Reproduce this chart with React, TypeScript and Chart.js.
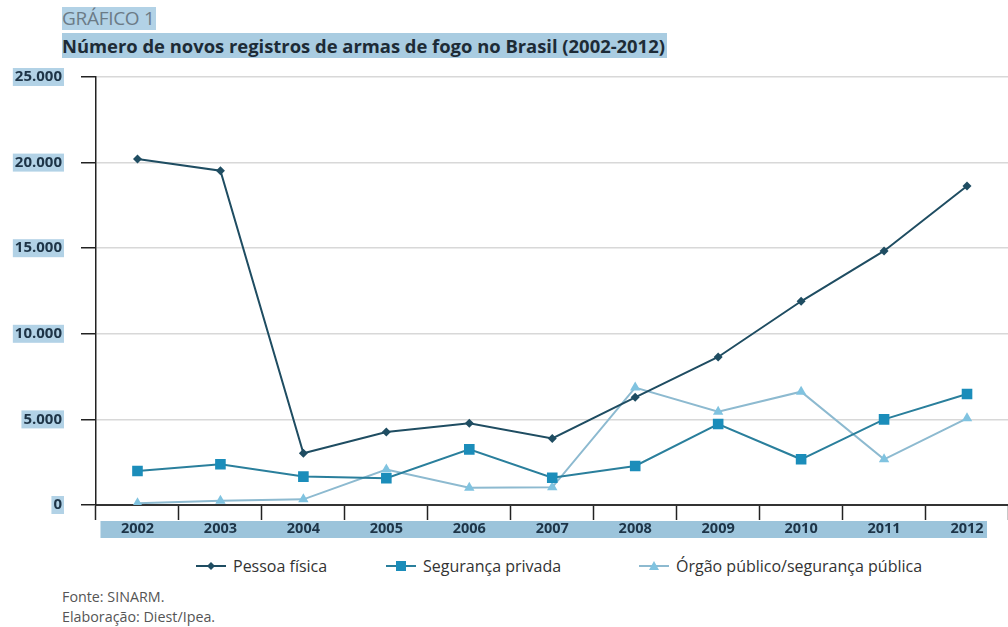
import React, { useEffect, useRef } from "react";
import { Chart, registerables } from "chart.js";

Chart.register(...registerables);

const years = ["2002", "2003", "2004", "2005", "2006", "2007", "2008", "2009", "2010", "2011", "2012"];
const pessoaFisica = [20210, 19530, 3020, 4260, 4770, 3890, 6290, 8645, 11900, 14840, 18630];
const segurancaPrivada = [1990, 2380, 1660, 1560, 3250, 1590, 2280, 4730, 2670, 5000, 6480];
const orgaoPublico = [100, 250, 330, 2070, 1010, 1030, 6860, 5450, 6620, 2670, 5060];
const seriesNames = ["Pessoa física", "Segurança privada", "Órgão público/segurança pública"];
const yMin = 0;
const yMax = 25000;
const yStep = 5000;

const C_PESSOA = "#1f4d62";
const C_SEG_LINE = "#2a7f9c";
const C_SEG_PT = "#1b8dba";
const C_ORG_LINE = "#8dbad0";
const C_ORG_PT = "#80c3e0";
const HL = "#b2d2e6";
const FONT = "'Open Sans', sans-serif";

const fmt = (v: number) => String(v).replace(/\B(?=(\d{3})+(?!\d))/g, ".");

const bandPlugin = {
  id: "xBand",
  beforeDraw(chart: any) {
    const xs = chart.scales.x;
    const ctx = chart.ctx;
    const l = xs.getPixelForValue(0) - 37;
    const r = xs.getPixelForValue(years.length - 1) + 20;
    ctx.save();
    ctx.fillStyle = "#9cc4db";
    ctx.fillRect(l, xs.top + 16, r - l, 17);
    ctx.restore();
  },
};

function LegendIcon({ kind, line, pt }: { kind: string; line: string; pt: string }) {
  return (
    <svg width="30" height="14" style={{ display: "block" }}>
      <line x1="0" y1="7" x2="30" y2="7" stroke={line} strokeWidth="2" />
      {kind === "diamond" && <polygon points="15,3 19,7 15,11 11,7" fill={pt} />}
      {kind === "square" && <rect x="10" y="2" width="10" height="10" fill={pt} />}
      {kind === "triangle" && <polygon points="15,2 20,11 10,11" fill={pt} />}
    </svg>
  );
}

export default function App() {
  const ref = useRef<HTMLCanvasElement | null>(null);

  useEffect(() => {
    if (!ref.current) return;
    const chart = new Chart(ref.current, {
      type: "line",
      data: {
        labels: years,
        datasets: [
          {
            label: seriesNames[0],
            data: pessoaFisica,
            borderColor: C_PESSOA,
            backgroundColor: C_PESSOA,
            borderWidth: 2,
            pointStyle: "rectRot",
            pointRadius: 4.5,
            pointBorderWidth: 0,
            tension: 0,
          },
          {
            label: seriesNames[1],
            data: segurancaPrivada,
            borderColor: C_SEG_LINE,
            backgroundColor: C_SEG_PT,
            borderWidth: 2,
            pointStyle: "rect",
            pointRadius: 7.5,
            pointBorderWidth: 0,
            tension: 0,
          },
          {
            label: seriesNames[2],
            data: orgaoPublico,
            borderColor: C_ORG_LINE,
            backgroundColor: C_ORG_PT,
            borderWidth: 2,
            pointStyle: "triangle",
            pointRadius: 6,
            pointBorderWidth: 0,
            tension: 0,
          },
        ],
      },
      options: {
        responsive: false,
        animation: false,
        layout: { padding: { top: 17, bottom: 5, left: 0, right: 0 } },
        plugins: { legend: { display: false }, tooltip: { enabled: false } },
        scales: {
          x: {
            offset: true,
            grid: {
              offset: true,
              drawOnChartArea: false,
              drawTicks: true,
              tickLength: 15,
              tickColor: "#222",
              tickWidth: 1.5,
            },
            border: { color: "#333", width: 2 },
            ticks: {
              color: "#1d3447",
              font: { family: FONT, size: 14.5, weight: "bold" },
              padding: 0,
              maxRotation: 0,
            },
            afterFit(scale: any) {
              scale.height = 40;
            },
          },
          y: {
            min: yMin,
            max: yMax,
            ticks: {
              stepSize: yStep,
              color: "#1d3447",
              font: { family: FONT, size: 15, weight: "bold" },
              padding: 19,
              callback: (v: any) => fmt(Number(v)),
              showLabelBackdrop: true,
              backdropColor: HL,
              backdropPadding: { left: 2, right: 2, top: 0, bottom: 0 },
            },
            grid: {
              color: "#d8d8d8",
              lineWidth: 1.5,
              tickLength: 15,
              tickColor: "#222",
              tickWidth: 1.5,
            },
            border: { color: "#222", width: 1.5 },
            afterFit(scale: any) {
              scale.width = 96;
              scale.paddingTop = 0;
              scale.paddingBottom = 0;
            },
          },
        },
      },
      plugins: [bandPlugin],
    } as any);
    return () => chart.destroy();
  }, []);

  const legendItems = [
    { kind: "diamond", line: C_PESSOA, pt: C_PESSOA, x: 196, text: seriesNames[0] },
    { kind: "square", line: C_SEG_LINE, pt: C_SEG_PT, x: 386, text: seriesNames[1] },
    { kind: "triangle", line: C_ORG_LINE, pt: C_ORG_PT, x: 639, text: seriesNames[2] },
  ];

  return (
    <div
      style={{
        position: "absolute",
        left: 0,
        top: 0,
        width: 1008,
        height: 627,
        overflow: "hidden",
        background: "#fff",
        fontFamily: FONT,
      }}
    >
      <div
        style={{
          position: "absolute",
          left: 62,
          top: 7,
          fontSize: 19,
          lineHeight: "23px",
          color: "#6b7b86",
          background: HL,
          paddingRight: 1,
          letterSpacing: -0.3,
        }}
      >
        GRÁFICO 1
      </div>
      <div
        style={{
          position: "absolute",
          left: 62,
          top: 33,
          fontSize: 18.4,
          lineHeight: "25px",
          fontWeight: 700,
          color: "#1d2b36",
          background: "#a9cce1",
          paddingRight: 2,
          whiteSpace: "nowrap",
        }}
      >
        Número de novos registros de armas de fogo no Brasil (2002-2012)
      </div>
      <canvas
        ref={ref}
        width={1016}
        height={490}
        style={{ position: "absolute", left: 0, top: 60, width: 1016, height: 490 }}
      />
      {legendItems.map((it) => (
        <div
          key={it.text}
          style={{
            position: "absolute",
            left: it.x,
            top: 555,
            display: "flex",
            alignItems: "center",
            gap: 7,
            fontSize: 16,
            lineHeight: "22px",
            color: "#333",
            whiteSpace: "nowrap",
          }}
        >
          <LegendIcon kind={it.kind} line={it.line} pt={it.pt} />
          <span>{it.text}</span>
        </div>
      ))}
      <div
        style={{
          position: "absolute",
          left: 62,
          top: 587,
          fontSize: 14.3,
          lineHeight: "20px",
          color: "#555",
        }}
      >
        <div>Fonte: SINARM.</div>
        <div>Elaboração: Diest/Ipea.</div>
      </div>
    </div>
  );
}
